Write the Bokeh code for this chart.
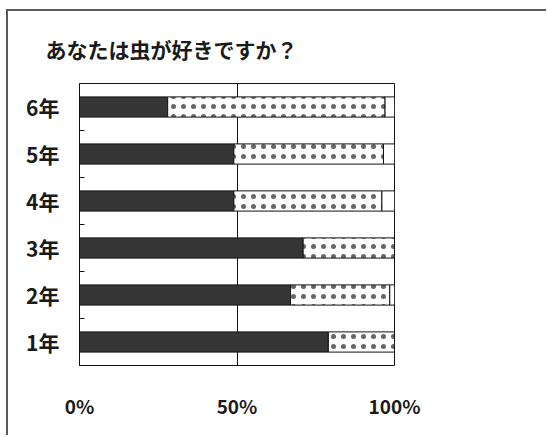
import numpy as np
from bokeh.plotting import figure
from bokeh.models import ColumnDataSource, Range1d, FixedTicker
from bokeh.embed import file_html
from bokeh.resources import INLINE

# Survey: "Do you like insects?" by school year (percent of answers)
grades = ["1年", "2年", "3年", "4年", "5年", "6年"]
like = [79, 67, 71, 49, 49, 28]
neutral = [21, 31.5, 29, 47, 47.5, 69]
dislike = [0, 1.5, 0, 4, 3.5, 3]
x_ticks = [0, 50, 100]
x_tick_labels = ["0%", "50%", "100%"]

ys = [i + 0.5 for i in range(len(grades))]
like_a = np.array(like, dtype=float)
neutral_a = np.array(neutral, dtype=float)
dislike_a = np.array(dislike, dtype=float)

src = ColumnDataSource(dict(
    y=ys,
    l0=np.zeros(len(grades)), r0=like_a,
    l1=like_a, r1=like_a + neutral_a,
    l2=like_a + neutral_a, r2=like_a + neutral_a + dislike_a,
))

JP = "Noto Sans CJK JP"

p = figure(
    width=540, height=426,
    x_range=Range1d(0, 100), y_range=Range1d(0, len(grades)),
    output_backend="svg", toolbar_location=None,
    min_border_left=71, min_border_right=154,
    min_border_top=72, min_border_bottom=72,
    title="あなたは虫が好きですか？",
)
p.margin = (9, 0, 0, 6)
p.styles = {"border-top": "2px solid #5a5a5a", "border-left": "2px solid #5a5a5a"}

p.title.text_font = JP
p.title.text_font_size = "21px"
p.title.text_font_style = "bold"
p.title.text_color = "#1a1a1a"
p.title.align = "left"
p.title.offset = -34
p.title.standoff = 40

bar_h = 0.43
p.hbar(y="y", left="l0", right="r0", height=bar_h, source=src,
       fill_color="#363636", line_color="#111111", line_width=1)
p.hbar(y="y", left="l1", right="r1", height=bar_h, source=src,
       fill_color="white", line_color="#111111", line_width=1,
       hatch_pattern="dot", hatch_color="#333333", hatch_alpha=0.75,
       hatch_scale=10, hatch_weight=0.4)
p.hbar(y="y", left="l2", right="r2", height=bar_h, source=src,
       fill_color="white", line_color="#111111", line_width=1)

p.outline_line_color = "#111111"
p.outline_line_width = 1
p.background_fill_color = "white"
p.border_fill_color = "white"

# x axis: percent labels, vertical grid line at 50%
p.xaxis.ticker = FixedTicker(ticks=x_ticks)
p.xaxis.major_label_overrides = dict(zip(x_ticks, x_tick_labels))
p.xaxis.major_tick_in = 0
p.xaxis.major_tick_out = 0
p.xaxis.minor_tick_line_color = None
p.xaxis.axis_line_color = None
p.xaxis.major_label_standoff = 26
p.xaxis.major_label_text_font = JP
p.xaxis.major_label_text_font_size = "19px"
p.xaxis.major_label_text_font_style = "bold"
p.xaxis.major_label_text_color = "#1a1a1a"
p.xgrid.ticker = FixedTicker(ticks=x_ticks)
p.xgrid.grid_line_color = "#111111"
p.xgrid.grid_line_width = 1
p.ygrid.grid_line_color = None

# y axis: grade labels at bar centres, small inner ticks between groups
p.yaxis.ticker = FixedTicker(ticks=ys, minor_ticks=list(range(1, len(grades))))
p.yaxis.major_label_overrides = dict(zip(ys, grades))
p.yaxis.major_tick_in = 0
p.yaxis.major_tick_out = 0
p.yaxis.minor_tick_in = 5
p.yaxis.minor_tick_out = 0
p.yaxis.minor_tick_line_color = "#111111"
p.yaxis.minor_tick_line_width = 1
p.yaxis.axis_line_color = "#111111"
p.yaxis.major_label_standoff = 20
p.yaxis.major_label_text_font = JP
p.yaxis.major_label_text_font_size = "21px"
p.yaxis.major_label_text_font_style = "bold"
p.yaxis.major_label_text_color = "#1a1a1a"

open("out.html", "w").write(file_html(p, INLINE))
